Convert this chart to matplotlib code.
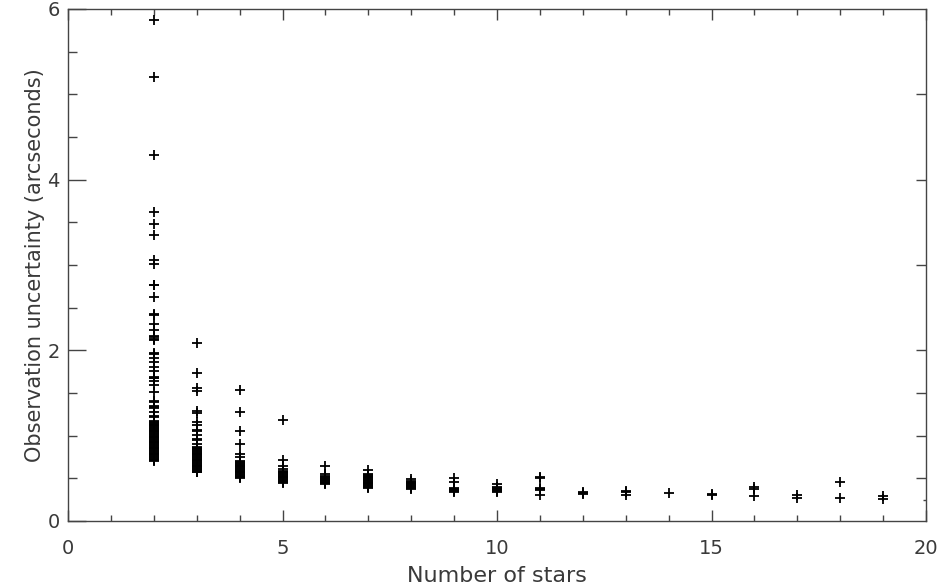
import numpy as np
import matplotlib
matplotlib.use('Agg')
import matplotlib.pyplot as plt

# number of stars used in each observation fit
stars = [2, 3, 4, 5, 6, 7, 8, 9, 10, 11, 12, 13, 14, 15, 16, 17, 18, 19]

# observation uncertainty (arcsec), one list per star count
u2 = [5.87, 5.20, 4.29, 3.62, 3.48, 3.35, 3.06, 3.01, 2.77, 2.76, 2.63, 2.42, 2.41,
      2.31, 2.24, 2.17, 2.16, 2.13, 2.12, 1.97, 1.96, 1.91, 1.86, 1.81, 1.76, 1.69,
      1.68, 1.67, 1.64, 1.59, 1.51, 1.41, 1.40, 1.35, 1.34, 1.32, 1.28, 1.23, 1.22,
      1.17, 1.16, 1.15, 1.14, 1.13, 1.12, 1.11, 1.10, 1.09, 1.08, 1.07, 1.06, 1.05,
      1.04, 1.03, 1.02, 1.01, 1.00, 0.99, 0.98, 0.97, 0.96, 0.95, 0.94, 0.93, 0.92,
      0.91, 0.90, 0.89, 0.88, 0.87, 0.86, 0.85, 0.84, 0.83, 0.82, 0.81, 0.80, 0.79,
      0.78, 0.77, 0.76, 0.75, 0.74, 0.73, 0.72, 0.71, 0.70]
u3 = [2.09, 1.73, 1.56, 1.52, 1.29, 1.26, 1.16, 1.13, 1.07, 1.05, 1.01, 0.96, 0.95,
      0.90, 0.87, 0.86, 0.85, 0.84, 0.83, 0.82, 0.81, 0.80, 0.79, 0.78, 0.77, 0.76,
      0.75, 0.74, 0.73, 0.72, 0.71, 0.70, 0.69, 0.68, 0.67, 0.66, 0.65, 0.64, 0.63,
      0.62, 0.61, 0.60, 0.59, 0.58, 0.57]
u4 = [1.53, 1.28, 1.06, 0.90, 0.78, 0.75, 0.70, 0.69, 0.68, 0.67, 0.66, 0.65, 0.64,
      0.63, 0.62, 0.61, 0.60, 0.59, 0.58, 0.57, 0.56, 0.55, 0.54, 0.53, 0.52, 0.51, 0.50]
u5 = [1.18, 0.72, 0.65, 0.61, 0.59, 0.58, 0.57, 0.56, 0.55, 0.54, 0.53, 0.52, 0.51,
      0.50, 0.49, 0.48, 0.47, 0.46, 0.45]
u6 = [0.64, 0.55, 0.53, 0.51, 0.50, 0.49, 0.48, 0.47, 0.46, 0.45, 0.44, 0.43]
u7 = [0.60, 0.55, 0.54, 0.53, 0.52, 0.51, 0.50, 0.49, 0.48, 0.47, 0.46, 0.45, 0.44,
      0.43, 0.42, 0.41, 0.40, 0.39]
u8 = [0.49, 0.47, 0.46, 0.45, 0.44, 0.43, 0.42, 0.41, 0.40, 0.39, 0.38]
u9 = [0.50, 0.46, 0.39, 0.38, 0.37, 0.36, 0.35, 0.34]
u10 = [0.43, 0.40, 0.39, 0.38, 0.36, 0.35, 0.34]
u11 = [0.51, 0.50, 0.39, 0.38, 0.37, 0.36, 0.31]
u12 = [0.34, 0.33, 0.32]
u13 = [0.35, 0.34, 0.30]
u14 = [0.33]
u15 = [0.32, 0.31]
u16 = [0.40, 0.38, 0.29]
u17 = [0.30, 0.27]
u18 = [0.46, 0.27]
u19 = [0.29, 0.26]

columns = [u2, u3, u4, u5, u6, u7, u8, u9, u10, u11, u12, u13, u14, u15, u16, u17, u18, u19]
x = np.concatenate([[n] * len(col) for n, col in zip(stars, columns)])
y = np.concatenate(columns)

txt = '#3a3a3a'
axc = '#444444'
plt.rcParams['font.family'] = ['DejaVu Sans']

fig = plt.figure(figsize=(9.44, 5.85), dpi=100, facecolor='white')
ax = fig.add_axes([68 / 944, 64 / 585, 858 / 944, 512 / 585])

ax.scatter(x, y, marker='+', s=42, linewidths=1.3, color='black', zorder=3)

ax.set_xlim(0, 20)
ax.set_ylim(0, 6)
ax.set_xticks([0, 5, 10, 15, 20])
ax.set_xticks(np.arange(0, 21, 1), minor=True)
ax.set_yticks([0, 2, 4, 6])
ax.set_yticks(np.arange(0, 6.01, 0.5), minor=True)

for s in ax.spines.values():
    s.set_linewidth(1.0)
    s.set_color(axc)

ax.tick_params(axis='x', which='major', direction='in', length=8, width=1.0,
               color=axc, top=True, pad=13, labelsize=14, labelcolor=txt)
ax.tick_params(axis='x', which='minor', direction='in', length=4, width=1.0,
               color=axc, top=True)
ax.tick_params(axis='y', which='major', direction='in', length=13, width=1.0,
               color=axc, right=False, pad=6, labelsize=14, labelcolor=txt)
ax.tick_params(axis='y', which='minor', direction='in', length=6.5, width=1.0,
               color=axc, right=False)

# right axis carries its own tick set
ax2 = ax.twinx()
ax2.set_ylim(0, 6)
ax2.set_yticks([0.5, 1.0, 1.5, 2.0, 3.0, 4.0, 5.0])
ax2.set_yticks([0.25], minor=True)
ax2.set_yticklabels([])
ax2.tick_params(axis='y', which='major', direction='in', length=7, width=1.0, color=axc)
ax2.tick_params(axis='y', which='minor', direction='in', length=2.5, width=1.0, color=axc)
for s in ax2.spines.values():
    s.set_visible(False)

ax.set_xlabel('Number of stars', fontsize=16, color=txt, labelpad=6)
ax.set_ylabel('Observation uncertainty (arcseconds)', fontsize=15, color=txt, labelpad=2)

fig.savefig('out.png', dpi=100, facecolor='white')
plt.close(fig)
